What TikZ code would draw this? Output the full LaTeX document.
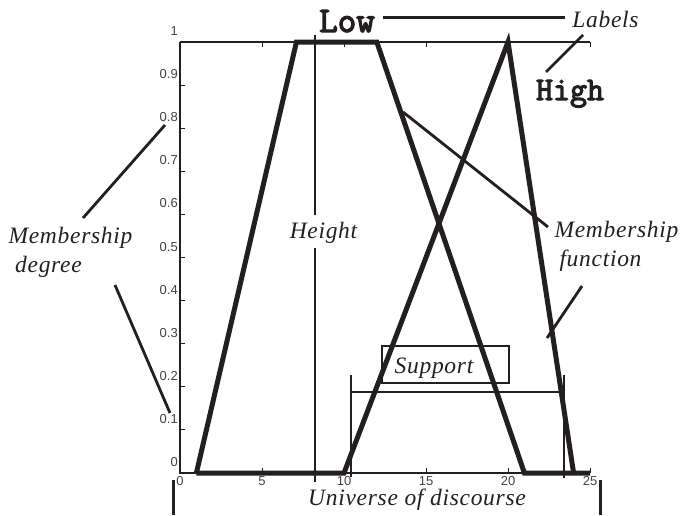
\documentclass[tikz,border=0pt]{standalone}
\usepackage{fontspec}
\setmainfont{Liberation Serif}
\newfontfamily\tickfont{Liberation Sans}
\newfontfamily\monob[FakeBold=3.5]{Latin Modern Mono}
\newfontfamily\labfont[LetterSpace=3]{Liberation Serif}
\definecolor{ink}{HTML}{231F20}
\tikzset{
  lbl/.style={font=\fontsize{23.5}{25}\selectfont\labfont\itshape, text=ink, inner sep=0pt, anchor=base},
  tl/.style={font=\fontsize{13}{15}\selectfont\tickfont, text=ink!85, inner sep=0pt},
  mono/.style={font=\fontsize{36}{38}\selectfont\monob, text=ink, inner sep=0pt, anchor=base},
  mf/.style={line width=5pt, draw=ink},
  axisline/.style={line width=1.8pt, draw=ink},
  tickline/.style={line width=1pt, draw=ink},
  leader/.style={line width=2.8pt, draw=ink},
}
\begin{document}
\begin{tikzpicture}[x=1pt, y=-1pt]
\useasboundingbox (0,0) rectangle (691,515);

% ---- plot in data coordinates ----
\begin{scope}[shift={(180,473)}, x=16.4pt, y=431pt]
  \draw[axisline] (0,1) -- (0,0) -- (25,0);
  \draw[axisline] (0,1) -- (25,1);
  \foreach \t in {5,10,15,20,25} {
    \draw[tickline] (\t,0) -- ++(0pt,5pt);
    \draw[tickline] (\t,1) -- ++(0pt,-5pt);
  }
  \foreach \t in {0.1,0.2,0.3,0.4,0.5,0.6,0.7,0.8,0.9} {
    \draw[tickline] (0,\t) -- ++(5pt,0pt);
  }
  \foreach \v [count=\i] in {0,0.1,0.2,0.3,0.4,0.5,0.6,0.7,0.8,0.9,1} {
    \node[tl, anchor=base east, xshift=-2pt, yshift=6.5pt] (yt\i) at (0,\v) {\v};
  }
  \foreach \v [count=\i] in {0,5,10,15,20,25} {
    \node[tl, anchor=base, yshift=-12pt] (xt\i) at (\v,0) {\v};
  }
  % membership functions
  \draw[mf] (1,0) -- (10,0) -- (20,1) -- (24,0);
  \draw[mf] (1,0) -- (7.1,1) -- (12,1) -- (21,0) -- (25,0);
\end{scope}

% ---- text labels ----
\node[mono] (low) at (347,32) {Low};
\node[mono, font=\fontsize{33}{35}\selectfont\monob] (high) at (570,100) {High};
\node[lbl] (labels) at (605.5,27) {Labels};
\node[lbl] (height) at (323.5,238) {Height};
\node[lbl] (md1) at (70.5,243) {Membership};
\node[lbl] (md2) at (48.5,272) {degree};
\node[lbl] (mf1) at (616.5,237) {Membership};
\node[lbl] (mf2) at (600.5,266) {function};
\node[lbl] (support) at (434,373) {Support};
\node[lbl] (universe) at (417,505) {Universe of discourse};

% ---- leader coordinates ----
\coordinate (lowA) at (383,17);   \coordinate (lowB) at (565,17);
\coordinate (labA) at (583,35);   \coordinate (labB) at (546,72);
\coordinate (hA) at (315,35);     \coordinate (hB) at (315,215);
\coordinate (hC) at (315,248);    \coordinate (hD) at (315,482);
\coordinate (mdA) at (83,218);    \coordinate (mdB) at (165,125);
\coordinate (mdC) at (115,285);   \coordinate (mdD) at (170,413);
\coordinate (mfA) at (403,112);   \coordinate (mfB) at (548,227);
\coordinate (mfC) at (547,338);   \coordinate (mfD) at (582,286);
\coordinate (spA) at (351,375);   \coordinate (spB) at (351,477);
\coordinate (spC) at (564,375);   \coordinate (spD) at (564,478);
\coordinate (spE) at (351,392);   \coordinate (spF) at (564,392);
\coordinate (uA) at (173,480);    \coordinate (uB) at (173,515);
\coordinate (uC) at (600,480);    \coordinate (uD) at (600,515);
\coordinate (boxA) at (382,346);  \coordinate (boxB) at (509,383);

\draw[leader, line width=3pt] (lowA) -- (lowB);
\draw[leader] (labA) -- (labB);
\draw[leader] (hA) -- (hB);
\draw[leader] (hC) -- (hD);
\draw[leader] (mdA) -- (mdB);
\draw[leader] (mdC) -- (mdD);
\draw[leader] (mfA) -- (mfB);
\draw[leader] (mfC) -- (mfD);
\draw[leader] (spA) -- (spB);
\draw[leader] (spC) -- (spD);
\draw[leader, line width=2.2pt] (spE) -- (spF);
\draw[leader, line width=3pt] (uA) -- (uB);
\draw[leader, line width=3pt] (uC) -- (uD);
\draw[leader] (boxA) rectangle (boxB);
\end{tikzpicture}
\end{document}
